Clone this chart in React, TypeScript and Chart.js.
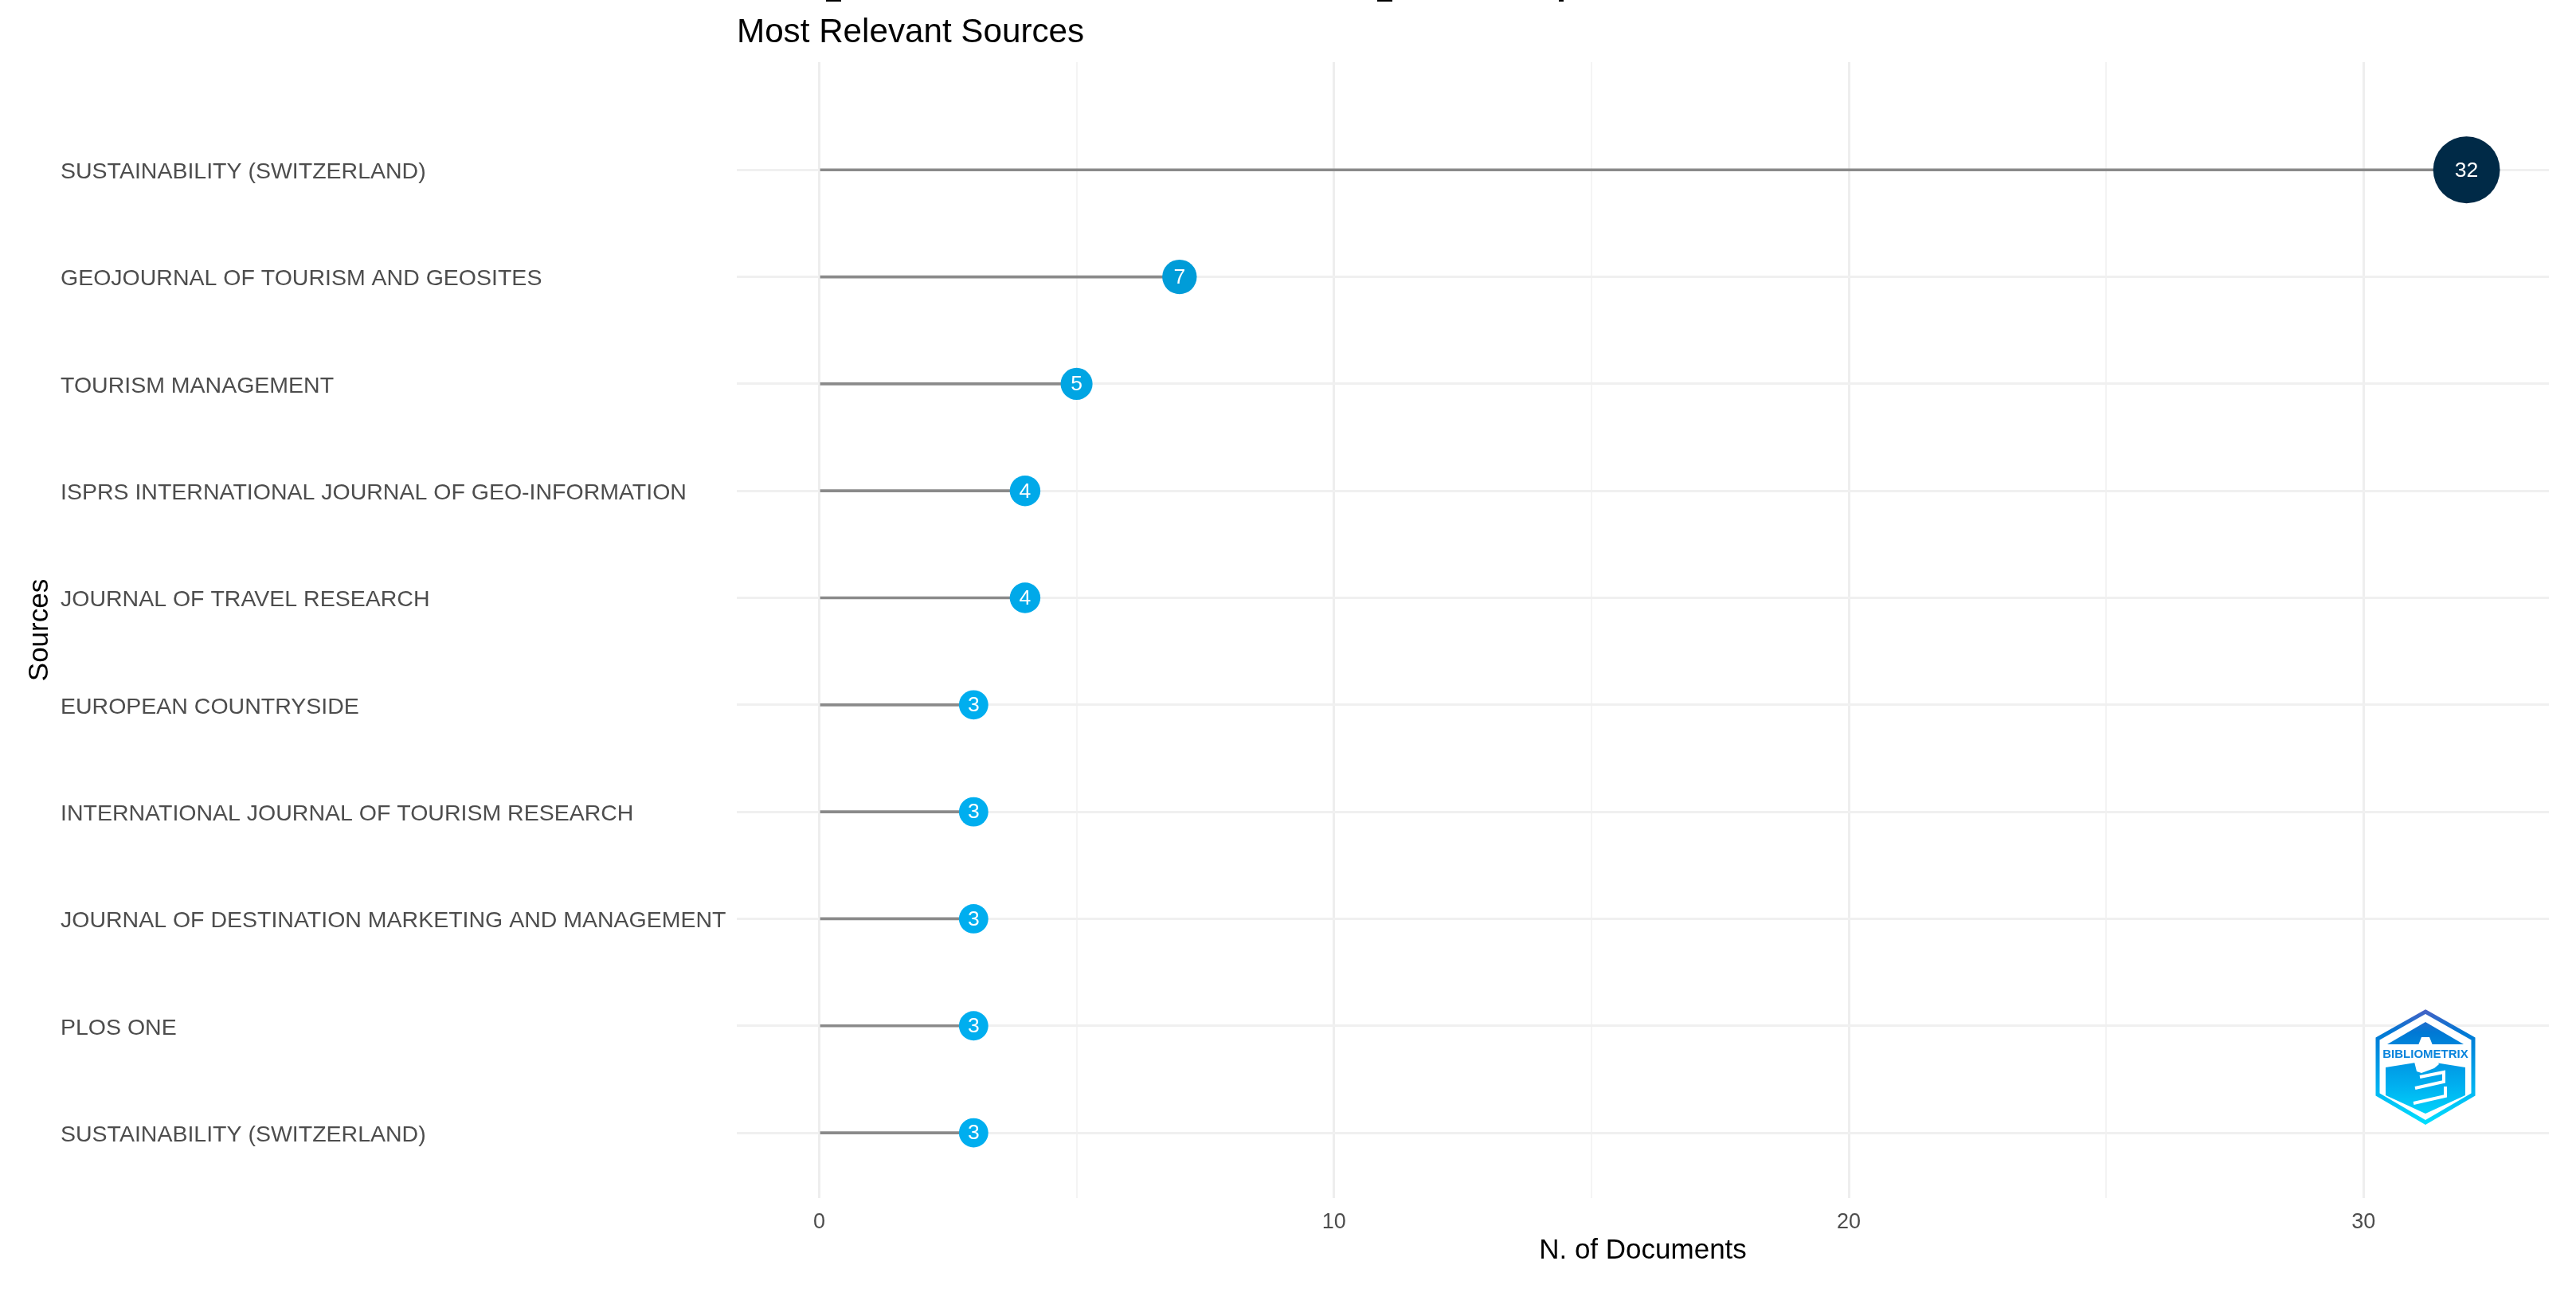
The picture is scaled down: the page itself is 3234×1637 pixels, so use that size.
import { useEffect, useRef } from "react"
import { Chart, registerables } from "chart.js"

Chart.register(...registerables)

const sources = [
  "SUSTAINABILITY (SWITZERLAND)",
  "GEOJOURNAL OF TOURISM AND GEOSITES",
  "TOURISM MANAGEMENT",
  "ISPRS INTERNATIONAL JOURNAL OF GEO-INFORMATION",
  "JOURNAL OF TRAVEL RESEARCH",
  "EUROPEAN COUNTRYSIDE",
  "INTERNATIONAL JOURNAL OF TOURISM RESEARCH",
  "JOURNAL OF DESTINATION MARKETING AND MANAGEMENT",
  "PLOS ONE",
  "SUSTAINABILITY (SWITZERLAND)",
]
const documents = [32, 7, 5, 4, 4, 3, 3, 3, 3, 3]
const xTicks = [0, 5, 10, 15, 20, 25, 30]

const FONT = "'Liberation Sans', Arial, sans-serif"

// size and colour both grow with the number of documents
const pointRadius = (v: number) => 16 + 0.81 * v
const pointColor = (v: number) => {
  const t = (v - 3) / 29
  const g = Math.round(174 + (42 - 174) * t)
  const b = Math.round(239 + (71 - 239) * t)
  return `rgb(0, ${g}, ${b})`
}

const isMajor = (c: any) => (c.tick?.value ?? 0) % 10 === 0

const valueLabels = {
  id: "valueLabels",
  afterDatasetsDraw(chart: Chart) {
    const { ctx } = chart
    const meta = chart.getDatasetMeta(1)
    ctx.save()
    ctx.fillStyle = "#ffffff"
    ctx.font = `26.5px ${FONT}`
    ctx.textAlign = "center"
    ctx.textBaseline = "middle"
    meta.data.forEach((pt: any, i: number) => {
      ctx.fillText(String(documents[i]), pt.x, pt.y + 1)
    })
    ctx.restore()
  },
}

// bibliometrix badge in the corner, plus the clipped bits of the line above the title
const badge = {
  id: "badge",
  afterDraw(chart: Chart) {
    const { ctx } = chart
    const poly = (pts: number[][]) => {
      ctx.beginPath()
      pts.forEach((p, i) => (i ? ctx.lineTo(p[0], p[1]) : ctx.moveTo(p[0], p[1])))
      ctx.closePath()
    }
    const grad = ctx.createLinearGradient(0, 1267, 0, 1412)
    grad.addColorStop(0, "#4a60c4")
    grad.addColorStop(0.2, "#0078d4")
    grad.addColorStop(0.65, "#00aeef")
    grad.addColorStop(1, "#00e0ff")

    ctx.save()
    poly([[3045, 1270], [3105, 1304], [3105, 1374], [3045, 1409], [2985, 1374], [2985, 1304]])
    ctx.fillStyle = "#ffffff"
    ctx.fill()
    ctx.strokeStyle = grad
    ctx.lineWidth = 5
    ctx.stroke()

    ctx.fillStyle = grad
    poly([[3045, 1283], [3093, 1311], [2997, 1311]])
    ctx.fill()
    poly([[2995, 1340], [3045, 1332], [3095, 1340], [3095, 1375], [3045, 1398], [2995, 1375]])
    ctx.fill()

    ctx.fillStyle = "#ffffff"
    poly([[3040, 1302], [3050, 1302], [3054, 1312], [3054, 1319], [3036, 1319], [3036, 1312]])
    ctx.fill()
    poly([[3030, 1329], [3058, 1329], [3062, 1336], [3056, 1341], [3040, 1347], [3034, 1345]])
    ctx.fill()
    ctx.strokeStyle = "#ffffff"
    ctx.lineWidth = 4
    ctx.beginPath()
    ctx.moveTo(3032, 1366)
    ctx.lineTo(3068, 1358)
    ctx.lineTo(3068, 1346)
    ctx.lineTo(3038, 1352)
    ctx.moveTo(3030, 1385)
    ctx.lineTo(3070, 1376)
    ctx.lineTo(3070, 1364)
    ctx.stroke()

    ctx.fillStyle = "#0a84dc"
    ctx.font = `bold 15px ${FONT}`
    ctx.textAlign = "center"
    ctx.textBaseline = "middle"
    ctx.fillText("BIBLIOMETRIX", 3045, 1324, 110)

    ctx.fillStyle = "#000000"
    ctx.fillRect(1037, 0, 19, 2)
    ctx.fillRect(1729, 0, 19, 2)
    ctx.fillRect(1957, 0, 6, 2)
    ctx.restore()
  },
}

export default function App() {
  const chartRef = useRef<HTMLCanvasElement>(null)

  useEffect(() => {
    if (!chartRef.current) return

    const chart = new Chart(chartRef.current, {
      type: "bar",
      data: {
        datasets: [
          {
            type: "bar",
            indexAxis: "y",
            data: documents.map((v, i) => ({ x: v, y: i })),
            backgroundColor: "#8a8a8a",
            barThickness: 3,
            order: 1,
          },
          {
            type: "scatter",
            data: documents.map((v, i) => ({ x: v, y: i })),
            pointRadius: (c: any) => pointRadius(documents[c.dataIndex]),
            pointBackgroundColor: (c: any) => pointColor(documents[c.dataIndex]),
            pointBorderWidth: 0,
            clip: false,
            order: 0,
          },
        ],
      } as any,
      options: {
        animation: false,
        responsive: false,
        devicePixelRatio: 1,
        layout: { autoPadding: false, padding: { left: 76, right: 34, top: 0, bottom: 46 } },
        plugins: {
          legend: { display: false },
          tooltip: { enabled: false },
          title: {
            display: true,
            text: "Most Relevant Sources",
            align: "start",
            fullSize: false,
            color: "#000000",
            font: { family: FONT, size: 42.2, weight: "normal" },
            padding: { top: 16, bottom: 11.36 },
          },
        },
        scales: {
          x: {
            type: "linear",
            offset: false,
            min: -1.6,
            max: 33.6,
            afterBuildTicks: (s: any) => {
              s.ticks = xTicks.map((value) => ({ value }))
            },
            afterFit: (s: any) => {
              s.height = 87
            },
            border: { display: false },
            grid: {
              offset: false,
              drawTicks: false,
              color: (c: any) => (isMajor(c) ? "#eeeeee" : "#f4f4f4"),
              lineWidth: (c: any) => (isMajor(c) ? 3 : 2),
            },
            ticks: {
              autoSkip: false,
              maxRotation: 0,
              padding: 14,
              color: "#4d4d4d",
              font: { family: FONT, size: 27 },
              callback: (v: any) => (v % 10 === 0 ? String(v) : ""),
            },
            title: {
              display: true,
              text: "N. of Documents",
              color: "#000000",
              font: { family: FONT, size: 35 },
              padding: 0,
            },
          },
          y: {
            type: "linear",
            offset: false,
            reverse: true,
            min: -1.007,
            max: 9.61,
            afterBuildTicks: (s: any) => {
              s.ticks = sources.map((_, value) => ({ value }))
            },
            afterFit: (s: any) => {
              s.width = 849
            },
            border: { display: false },
            grid: { offset: false, drawTicks: false, color: "#f0f0f0", lineWidth: 3 },
            ticks: {
              autoSkip: false,
              crossAlign: "far",
              labelOffset: 3,
              color: "#4d4d4d",
              font: { family: FONT, size: 28.5 },
              callback: (v: any) => sources[v],
            },
            title: {
              display: true,
              text: "Sources",
              color: "#000000",
              font: { family: FONT, size: 35 },
              padding: { top: -47, bottom: 0 },
            },
          },
        },
      } as any,
      plugins: [valueLabels, badge],
    })

    return () => chart.destroy()
  }, [])

  return (
    <div style={{ position: "absolute", left: 0, top: 0, width: 3234, height: 1637, background: "#ffffff" }}>
      <canvas ref={chartRef} width={3234} height={1637} style={{ display: "block" }} />
    </div>
  )
}
